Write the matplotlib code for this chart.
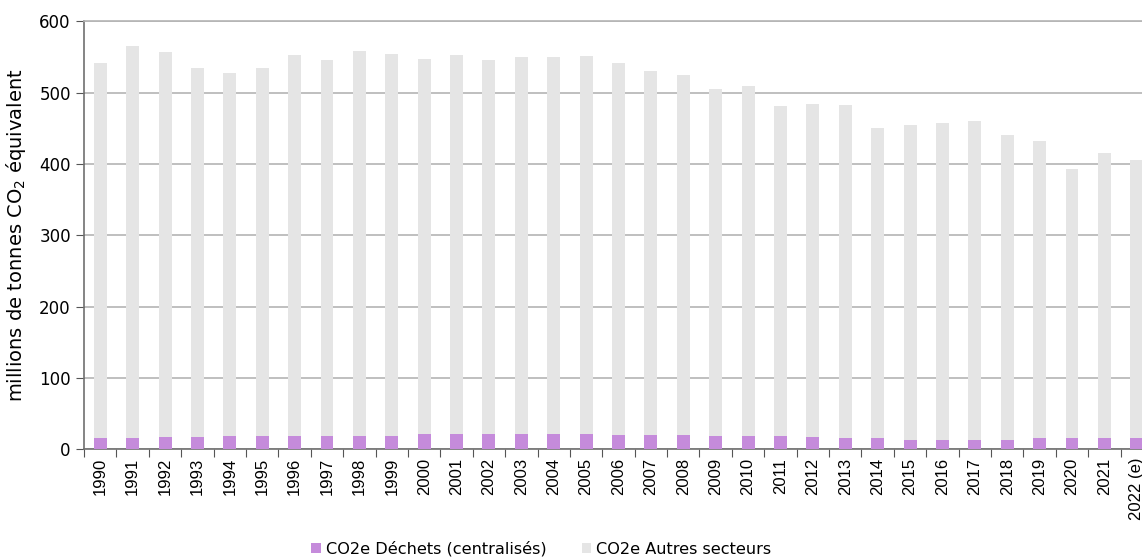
import matplotlib.pyplot as plt
import numpy as np

years = [str(y) for y in range(1990, 2022)] + ["2022 (e)"]
total = [542, 566, 557, 535, 528, 534, 553, 545, 559, 554,
         547, 552, 545, 550, 550, 551, 541, 530, 525, 505,
         509, 481, 484, 483, 450, 455, 457, 460, 441, 432,
         393, 415, 406]
dechets = [15.5, 15.5, 17, 17, 19, 19, 19, 19, 19, 19,
           21, 21, 21, 21, 21, 21, 20, 20, 20, 19,
           19, 19, 18, 15.5, 15.5, 13.5, 13.5, 13.5, 13.5, 15.5,
           15.5, 15.5, 15.5]
autres = [t - d for t, d in zip(total, dechets)]

fig = plt.figure(figsize=(11.42, 5.59), dpi=100)
ax = fig.add_axes([0.0736, 0.196, 0.936, 0.766])

x = np.arange(len(years))
b1 = ax.bar(x, dechets, width=0.4, color="#C58BDB", label="CO2e Déchets (centralisés)", zorder=3)
b2 = ax.bar(x, autres, width=0.4, bottom=dechets, color="#E5E5E5", label="CO2e Autres secteurs", zorder=3)

ax.set_ylim(0, 600)
ax.set_xlim(-0.5, len(years) - 0.5)
ax.set_yticks(range(0, 601, 100))
ax.yaxis.grid(True, color="#B4B4B4", linewidth=1.2, zorder=0)
ax.set_axisbelow(True)

# ticks between the bars, labels under the bars
ax.set_xticks(x - 0.5, minor=False)
ax.set_xticklabels([])
ax.set_xticks(x, minor=True)
ax.set_xticklabels(years, minor=True, rotation=90, fontsize=12, family="Liberation Sans")
ax.tick_params(axis="x", which="minor", length=0, pad=6)
ax.tick_params(axis="x", which="major", length=6, color="#555555")
ax.tick_params(axis="y", length=6, color="#555555", labelsize=12)

ax.spines["right"].set_visible(False)
ax.spines["top"].set_color("#B4B4B4")
ax.spines["top"].set_linewidth(1.2)
ax.spines["left"].set_color("#707070")
ax.spines["bottom"].set_color("#707070")
ax.spines["left"].set_linewidth(1.2)
ax.spines["bottom"].set_linewidth(1.2)

ax.set_ylabel("millions de tonnes CO$_2$ équivalent", fontsize=14, labelpad=8)

fig.legend(handles=[b1, b2], loc="center", bbox_to_anchor=(0.474, 0.018), ncol=2,
           frameon=False, fontsize=11.6, handlelength=0.6, handleheight=0.6,
           handletextpad=0.3, columnspacing=2.2)

fig.savefig("out.png", dpi=100)
